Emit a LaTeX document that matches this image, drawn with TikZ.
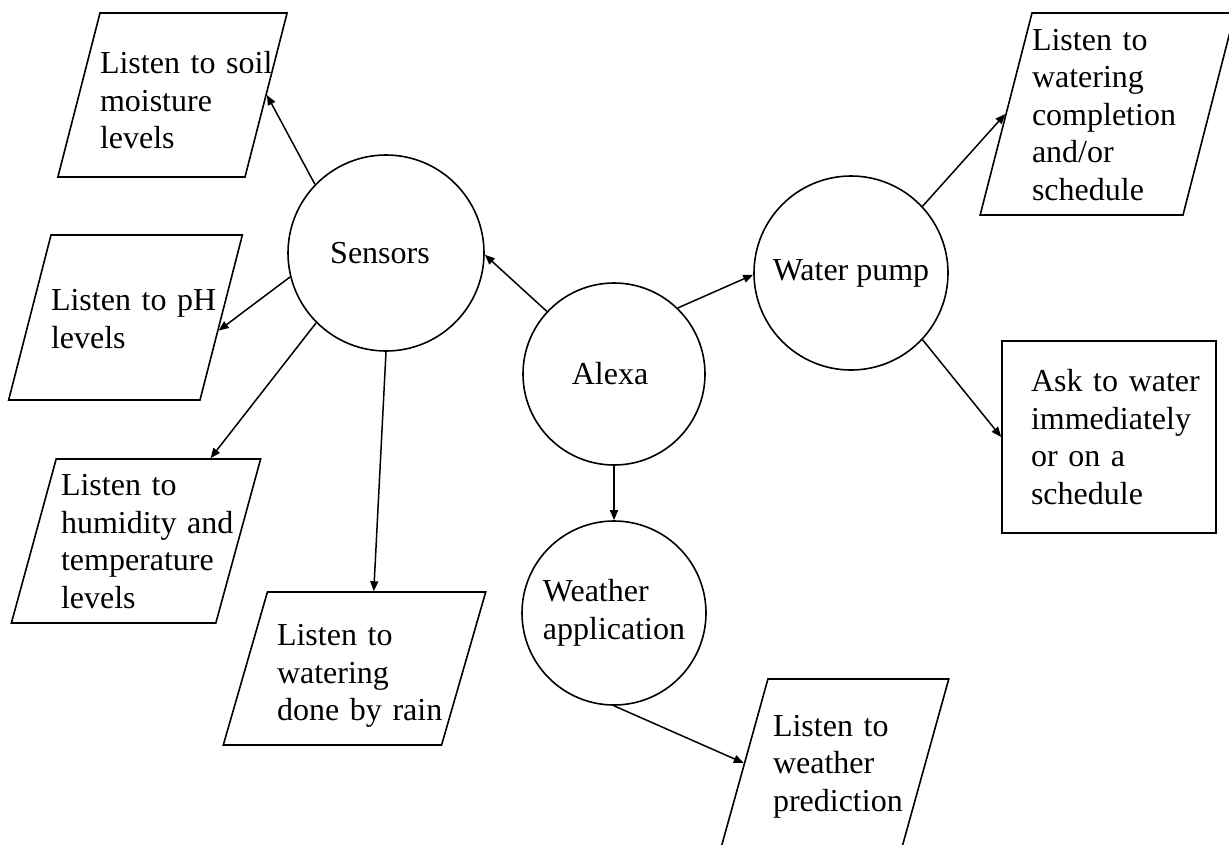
\documentclass[tikz,border=0pt]{standalone}
\usepackage{fontspec}
\setmainfont{Liberation Serif}
\usetikzlibrary{shapes.geometric,arrows.meta}
\newcommand\dfont{\fontsize{32}{37.5}\selectfont}
\tikzset{
  every node/.style={font=\dfont, text=black},
  para/.style={draw, line width=1.6pt, shape=trapezium, trapezium left angle=75.6,
    trapezium right angle=104.4, trapezium stretches=true, inner sep=0pt, align=left},
  hub/.style={draw, line width=1.6pt, circle, inner sep=0pt, align=left},
  boxed/.style={draw, line width=1.6pt, rectangle, inner sep=0pt, align=left},
  arr/.style={line width=1.5pt, -{Triangle[length=10pt,width=8pt]}},
}
\begin{document}
\begin{tikzpicture}[x=1pt,y=-1pt]
\useasboundingbox (0,0) rectangle (1229,844);
\fill[white] (0,0) rectangle (1229,844);
\clip (0,0) rectangle (1229,844);
% hubs
\node[hub, minimum size=196pt] (sensors) at (386,253) {Sensors\hspace*{12pt}};
\node[hub, minimum size=182pt] (alexa) at (614,374) {Alexa\hspace*{8pt}};
\node[hub, minimum size=194pt] (pump) at (851,273) {Water pump};
\node[hub, minimum size=184pt] (weather) at (614,613) {Weather\\application};
% parallelograms
\node[para, minimum width=229pt, text width=145pt, text height=60.5pt, text depth=103.5pt] (soil) at (172.5,95)
  {\mbox{Listen to soil}\\\mbox{moisture}\\\mbox{levels}};
\node[para, minimum width=229pt, text width=149pt, text height=75.7pt, text depth=89.3pt] (ph) at (125.5,317.5)
  {\mbox{Listen to pH}\\\mbox{levels}};
\node[para, minimum width=250pt, text width=150pt, text height=36.7pt, text depth=127.3pt] (hum) at (136,541)
  {\mbox{Listen to}\\\mbox{humidity and}\\\mbox{temperature}\\\mbox{levels}};
\node[para, minimum width=263pt, text width=155pt, text height=53.5pt, text depth=99.5pt] (rain) at (354.5,668.5)
  {\mbox{Listen to}\\\mbox{watering}\\\mbox{done by rain}};
\node[para, minimum width=251pt, text width=151pt, text height=37pt, text depth=165pt] (comp) at (1107.5,114)
  {\mbox{Listen to}\\\mbox{watering}\\\mbox{completion}\\\mbox{and/or}\\\mbox{schedule}};
\node[para, minimum width=228pt, text width=124pt, text height=57pt, text depth=111pt] (pred) at (835,763)
  {\mbox{Listen to}\\\mbox{weather}\\\mbox{prediction}};
% rectangle
\node[boxed, minimum width=214pt, minimum height=192pt, text width=156pt] (ask) at (1109,437)
  {\mbox{Ask to water}\\\mbox{immediately}\\\mbox{or on a}\\\mbox{schedule}};
% connectors
\draw[arr] (sensors.136) -- (soil.east);
\draw[arr] (sensors.194) -- (ph.-8);
\draw[arr] (sensors.225) -- (hum.48);
\draw[arr] (sensors.south) -- (rain.76);
\draw[arr] (alexa.137) -- (sensors.-1);
\draw[arr] (alexa.46) -- (pump.181);
\draw[arr] (alexa.south) -- (weather.north);
\draw[arr] (pump.43) -- (comp.west);
\draw[arr] (pump.-43) -- (ask.west);
\draw[arr] (weather.south) -- (pred.west);
\end{tikzpicture}
\end{document}
